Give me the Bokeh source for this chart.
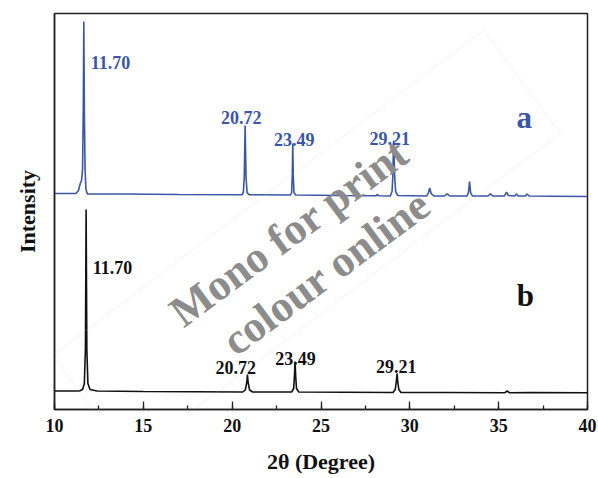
import math
from bokeh.plotting import figure
from bokeh.models import (ColumnDataSource, Range1d, SingleIntervalTicker, FixedTicker,
                          Label, PolyAnnotation)
from bokeh.embed import file_html
from bokeh.resources import INLINE
from bokeh.core.properties import value

# ---------------- data ----------------
two_theta_a = [10.0, 11.2, 11.35, 11.45, 11.52, 11.58, 11.62, 11.65, 11.68, 11.72, 11.77, 11.85,
               14.0, 17.0, 20.55, 20.63, 20.68, 20.73, 20.78, 20.84, 20.95,
               23.28, 23.35, 23.38, 23.41, 23.44, 23.48, 23.58, 26.0, 28.1, 28.16, 28.25,
               28.9, 29.0, 29.04, 29.07, 29.09, 29.11, 29.15, 29.2, 29.32,
               30.95, 31.05, 31.12, 31.2, 31.35, 31.95, 32.1, 32.25,
               33.22, 33.3, 33.36, 33.42, 33.52, 34.4, 34.54, 34.68,
               35.33, 35.44, 35.55, 35.9, 36.0, 36.1, 36.5, 36.6, 36.72, 38.0, 40.0]
intensity_a = [216, 216, 219, 226, 229, 240, 300, 388, 300, 240, 220, 215.5,
               215.5, 215, 214.8, 217, 232, 284, 232, 217, 214.8,
               214.5, 217, 232, 266, 232, 217, 214.5, 214, 213.8, 215, 213.8,
               213.5, 218, 232, 255, 269, 255, 232, 218, 214,
               213.5, 217, 221.5, 216, 213.5, 213.5, 215.7, 213.5,
               213.5, 217, 228, 217, 213.5, 213.5, 215.7, 213.5,
               213.5, 217.3, 214, 213.5, 215.5, 213.5, 213.5, 215.5, 213.5, 213.3, 213]

two_theta_b = [10.0, 11.4, 11.58, 11.68, 11.74, 11.78, 11.82, 11.88, 12.0, 12.4, 15.0,
               20.6, 20.74, 20.82, 20.86, 20.9, 20.98, 21.15,
               23.35, 23.46, 23.51, 23.54, 23.57, 23.62, 23.75,
               29.05, 29.18, 29.24, 29.28, 29.32, 29.38, 29.5,
               32.0, 35.35, 35.48, 35.6, 36.8, 40.0]
intensity_b = [18.5, 18.5, 20, 26, 60, 200, 60, 26, 20, 18.5, 18,
               17.5, 19.5, 27, 35, 27, 19.5, 17.5,
               17.5, 21, 35, 48, 35, 21, 17.5,
               17, 20, 28, 36, 28, 20, 17,
               17, 16.8, 18.5, 16.8, 17, 16.7]

labels_a_text = ["11.70", "20.72", "23.49", "29.21"]
labels_a_x = [13.15, 20.51, 23.5, 28.87]
labels_a_y = [347.3, 291.7, 269.7, 270.7]

labels_b_text = ["11.70", "20.72", "23.49", "29.21"]
labels_b_x = [13.26, 20.2, 23.56, 29.24]
labels_b_y = [142.3, 41.7, 51.3, 43.0]

series_names = ["a", "b"]
series_name_x = [36.44, 36.51]
series_name_y = [291.7, 114.0]

x_ticks_interval = 5

# ---------------- styles ----------------
BLUE = "#3b55a9"
BLACK = "#111111"
SERIF = "Liberation Serif"
GRAY = "#8c8c8c"

p = figure(width=598, height=478, output_backend="svg", toolbar_location=None,
           x_range=Range1d(10, 40), y_range=Range1d(0, 396),
           min_border_left=54, min_border_right=11, min_border_top=13, min_border_bottom=69,
           background_fill_color="white", border_fill_color="white")

p.xgrid.visible = False
p.ygrid.visible = False
p.outline_line_color = "#222222"
p.outline_line_width = 1.5

# x axis
xa = p.xaxis[0]
xa.ticker = SingleIntervalTicker(interval=x_ticks_interval, num_minor_ticks=2)
xa.major_tick_in = 8
xa.major_tick_out = 0
xa.minor_tick_in = 4
xa.minor_tick_out = 0
xa.major_tick_line_color = "#222222"
xa.minor_tick_line_color = "#222222"
xa.major_tick_line_width = 1.3
xa.minor_tick_line_width = 1.3
xa.axis_line_color = "#222222"
xa.axis_line_width = 1.5
xa.major_label_text_font = SERIF
xa.major_label_text_font_style = "bold"
xa.major_label_text_font_size = "18px"
xa.major_label_text_color = BLACK
xa.major_label_standoff = 9
xa.axis_label = "2θ (Degree)"
xa.axis_label_text_font = SERIF
xa.axis_label_text_font_style = "bold"
xa.axis_label_text_font_size = "22px"
xa.axis_label_text_color = BLACK
xa.axis_label_standoff = 14

# y axis
ya = p.yaxis[0]
ya.ticker = FixedTicker(ticks=[])
ya.major_tick_in = 0
ya.major_tick_out = 0
ya.minor_tick_in = 0
ya.minor_tick_out = 0
ya.major_label_text_font_size = "0px"
ya.major_label_standoff = 0
ya.axis_line_color = "#222222"
ya.axis_line_width = 1.5
ya.axis_label = "Intensity"
ya.axis_label_text_font = SERIF
ya.axis_label_text_font_style = "bold"
ya.axis_label_text_font_size = "22px"
ya.axis_label_text_color = BLACK
ya.axis_label_standoff = 15

# traces
p.line(two_theta_a, intensity_a, line_color=BLUE, line_width=1.6)
p.line(two_theta_b, intensity_b, line_color=BLACK, line_width=1.6)

# peak labels
src_a = ColumnDataSource(dict(x=labels_a_x, y=labels_a_y, t=labels_a_text))
src_b = ColumnDataSource(dict(x=labels_b_x, y=labels_b_y, t=labels_b_text))
p.text(x="x", y="y", text="t", source=src_a, text_font=value(SERIF), text_font_style="bold",
       text_font_size="18px", text_color=BLUE, text_align="center", text_baseline="alphabetic")
p.text(x="x", y="y", text="t", source=src_b, text_font=value(SERIF), text_font_style="bold",
       text_font_size="18px", text_color=BLACK, text_align="center", text_baseline="alphabetic")

# series letters
src_n = ColumnDataSource(dict(x=series_name_x, y=series_name_y, t=series_names,
                              c=[BLUE, BLACK]))
p.text(x="x", y="y", text="t", source=src_n, text_font=value(SERIF), text_font_style="bold",
       text_font_size="31px", text_color="c", text_align="center", text_baseline="alphabetic")

# watermark
p.add_layout(PolyAnnotation(xs=[34.15, 38.48, 14.17, 9.89], ys=[379, 276, -49, 54],
                            fill_alpha=0, line_color="#c8c8c8", line_width=0.8,
                            level="overlay"))
ang = math.radians(36.5)
p.add_layout(Label(x=23.2, y=177, text="Mono for print", angle=ang, text_align="center",
                   text_baseline="middle", text_font=SERIF, text_font_style="bold",
                   text_font_size="44px", text_color=GRAY, level="overlay"))
p.add_layout(Label(x=25.3, y=137, text="colour online", angle=ang, text_align="center",
                   text_baseline="middle", text_font=SERIF, text_font_style="bold",
                   text_font_size="44px", text_color=GRAY, level="overlay"))

open("out.html", "w").write(file_html(p, INLINE))
